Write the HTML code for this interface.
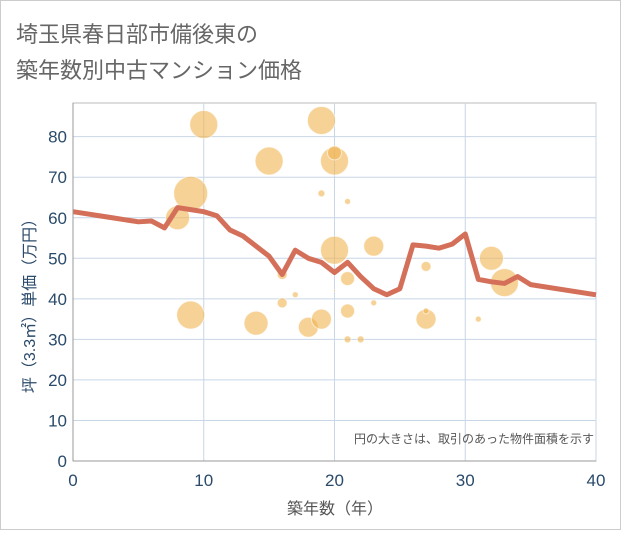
<!DOCTYPE html>
<html><head><meta charset="utf-8"><style>
body{margin:0;background:#fff;}
svg text{font-family:"Liberation Sans","Noto Sans CJK JP",sans-serif;}
</style></head><body>
<svg width="621" height="530" xmlns="http://www.w3.org/2000/svg">
<rect x="0.5" y="0.5" width="620" height="529" fill="#fff" stroke="#ccc"/>
<text x="16" y="42" font-size="22" fill="#666">埼玉県春日部市備後東の</text>
<text x="16" y="78" font-size="22" fill="#666">築年数別中古マンション価格</text>
<g id="grid"></g>
<g id="bubbles"></g>
<g id="line"></g>
<g id="axes"></g>
<text x="594" y="443" font-size="12" fill="#555" text-anchor="end">円の大きさは、取引のあった物件面積を示す</text>
<text x="335" y="514" font-size="16" fill="#555" text-anchor="middle">築年数（年）</text>
<text transform="translate(35,302) rotate(-90)" font-size="16" fill="#2a4a6b" text-anchor="middle">坪（3.3㎡）単価（万円）</text>
</svg>
<script>
const xTicks=[0,10,20,30,40];
const yTicks=[0,10,20,30,40,50,60,70,80];
const lineYears=[0,1,2,3,4,5,6,7,8,9,10,11,12,13,14,15,16,17,18,19,20,21,22,23,24,25,26,27,28,29,30,31,32,33,34,35,40];
const linePrices=[61.5,61,60.5,60,59.5,59,59.2,57.5,62.5,62,61.5,60.5,57,55.5,53,50.5,46,52,50,49,46.5,49,45.5,42.5,41,42.5,53.3,53,52.5,53.5,56,44.8,44.2,43.8,45.5,43.5,41];
const bubbleYears=[8,9,9,10,14,15,16,16,17,18,19,19,19,20,20,20,20,21,21,21,21,22,23,23,27,27,27,31,32,33];
const bubblePrices=[60,66,36,83,34,74,46,39,41,33,84,35,66,74,76,52,42,64,45,37,30,30,53,39,48,35,37,35,50,44];
const bubbleSizes=[12,17,14,14,12,14,5,5,3,10,14,10,3.5,14,7,14,1,3,7,7,3.5,3.5,10,3,5,10,3,3,12,14];
const X=v=>73+v*(596-73)/40;
const Y=v=>461-v*4.054;
const NS="http://www.w3.org/2000/svg";
function mk(tag,attrs,parent){const e=document.createElementNS(NS,tag);for(const k in attrs)e.setAttribute(k,attrs[k]);parent.appendChild(e);return e;}
const grid=document.getElementById('grid'),axes=document.getElementById('axes');
mk('rect',{x:73,y:103,width:523,height:358,fill:'none',stroke:'#bbb'},grid);
yTicks.forEach(t=>{
 const l=mk('line',{x1:73,x2:596,y1:Y(t),y2:Y(t),stroke:'#c8d6e6','stroke-width':1},grid);
 
 
 const tx=mk('text',{x:67,y:Y(t)+6,'font-size':17,fill:'#2a4a6b','text-anchor':'end'},axes);
 tx.textContent=t;
 
 
});
xTicks.forEach(t=>{
 const l=mk('line',{x1:X(t),x2:X(t),y1:103,y2:461,stroke:'#c8d6e6','stroke-width':1},grid);
 
 
 const tx=mk('text',{x:X(t),y:486,'font-size':17,fill:'#2a4a6b','text-anchor':'middle'},axes);
 tx.textContent=t;
 
 
});
mk('line',{x1:73,x2:596,y1:461,y2:461,stroke:'#999'},axes);
mk('line',{x1:73,x2:73,y1:103,y2:461,stroke:'#999'},axes);
const bg=document.getElementById('bubbles');
bubbleYears.forEach((yr,i)=>{
 const c=mk('circle',{cx:X(yr),cy:Y(bubblePrices[i]),r:bubbleSizes[i],fill:'rgba(240,180,80,0.6)',stroke:'rgba(255,255,255,0.6)','stroke-width':1},bg);
 
 
});
const lg=document.getElementById('line');
const p=mk('polyline',{points:lineYears.map((yr,i)=>X(yr)+','+Y(linePrices[i])).join(' '),fill:'none',stroke:'#d4705a','stroke-width':5,'stroke-linejoin':'round'},lg);


</script>
</body></html>
